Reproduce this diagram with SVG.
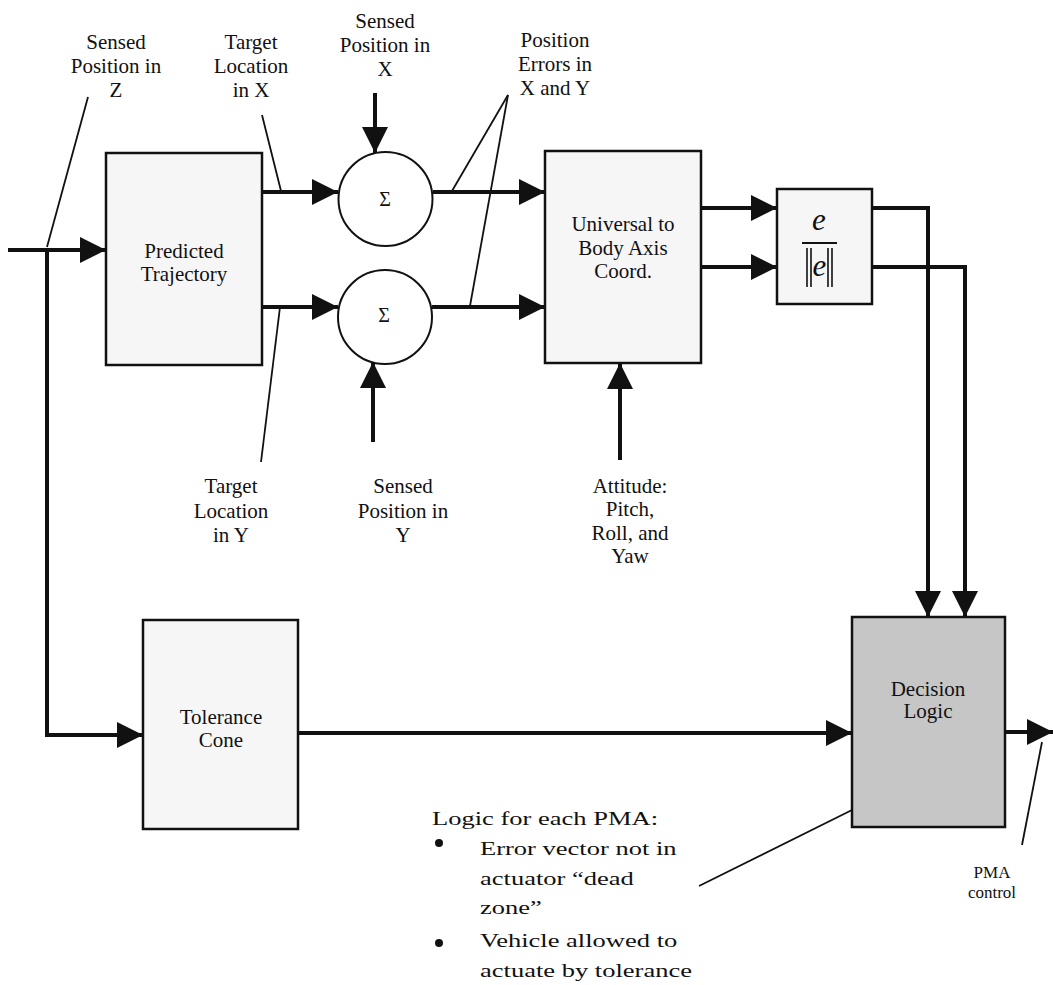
<svg xmlns="http://www.w3.org/2000/svg" width="1053" height="985" viewBox="0 0 1053 985">
<style>
text{font-family:"Liberation Serif","Times New Roman",serif;fill:#111}
.lbl{font-size:21px;text-anchor:middle}
.sm{font-size:17px;text-anchor:middle}
.note{font-size:19.5px}
.box{fill:#f6f6f6;stroke:#111;stroke-width:2.5}
.dec{fill:#c6c6c6;stroke:#111;stroke-width:2.5}
.circ{fill:#fff;stroke:#111;stroke-width:2}
.wire{fill:none;stroke:#111;stroke-width:4}
.lead{fill:none;stroke:#111;stroke-width:1.8}
.sig{font-size:20px;text-anchor:middle}
.it{font-size:31px;font-style:italic;text-anchor:middle}
</style>
<defs>
<marker id="ah" markerUnits="userSpaceOnUse" markerWidth="26" markerHeight="26" refX="26" refY="13" orient="auto">
<path d="M0,0 L26,13 L0,26 z" fill="#111"/>
</marker>
</defs>
<rect width="1053" height="985" fill="#fff"/>

<g id="predicted-trajectory">
<rect class="box" x="106" y="153" width="156" height="212"/>
<text class="lbl" x="184" y="258">Predicted</text>
<text class="lbl" x="184" y="281">Trajectory</text>
</g>

<g id="sum-x">
<circle class="circ" cx="385.5" cy="199" r="47"/>
<text class="sig" x="385" y="206">Σ</text>
</g>

<g id="sum-y">
<circle class="circ" cx="385" cy="317" r="47"/>
<text class="sig" x="384" y="322">Σ</text>
</g>

<g id="universal-to-body">
<rect class="box" x="545" y="151" width="156" height="212"/>
<text class="lbl" x="623" y="231">Universal to</text>
<text class="lbl" x="623" y="255">Body Axis</text>
<text class="lbl" x="623" y="278">Coord.</text>
</g>

<g id="normalize">
<rect class="box" x="777" y="189" width="95" height="115"/>
<text class="it" x="819" y="230">e</text>
<line x1="802" y1="243" x2="837" y2="243" stroke="#111" stroke-width="2"/>
<g stroke="#111" stroke-width="1.6">
<line x1="807" y1="248" x2="807" y2="287"/>
<line x1="811" y1="248" x2="811" y2="287"/>
<line x1="828" y1="248" x2="828" y2="287"/>
<line x1="832" y1="248" x2="832" y2="287"/>
</g>
<text class="it" x="819.5" y="276">e</text>
</g>

<g id="tolerance-cone">
<rect class="box" x="143" y="620" width="155" height="209"/>
<text class="lbl" x="221" y="724">Tolerance</text>
<text class="lbl" x="221" y="747">Cone</text>
</g>

<g id="decision-logic">
<rect class="dec" x="852" y="617" width="153" height="210"/>
<text class="lbl" x="928" y="696">Decision</text>
<text class="lbl" x="928" y="718">Logic</text>
</g>

<g id="labels">
<text class="lbl" x="116" y="49">Sensed</text>
<text class="lbl" x="116" y="73">Position in</text>
<text class="lbl" x="116" y="97">Z</text>

<text class="lbl" x="251" y="49">Target</text>
<text class="lbl" x="251" y="73">Location</text>
<text class="lbl" x="251" y="97">in X</text>

<text class="lbl" x="385" y="28">Sensed</text>
<text class="lbl" x="385" y="52">Position in</text>
<text class="lbl" x="385" y="76">X</text>

<text class="lbl" x="555" y="47">Position</text>
<text class="lbl" x="555" y="71">Errors in</text>
<text class="lbl" x="555" y="95">X and Y</text>

<text class="lbl" x="231" y="493">Target</text>
<text class="lbl" x="231" y="518">Location</text>
<text class="lbl" x="231" y="542">in Y</text>

<text class="lbl" x="403" y="493">Sensed</text>
<text class="lbl" x="403" y="518">Position in</text>
<text class="lbl" x="403" y="542">Y</text>

<text class="lbl" x="630" y="493">Attitude:</text>
<text class="lbl" x="630" y="516">Pitch,</text>
<text class="lbl" x="630" y="540">Roll, and</text>
<text class="lbl" x="630" y="563">Yaw</text>

<text class="sm" x="992" y="878">PMA</text>
<text class="sm" x="992" y="898">control</text>
</g>

<g id="logic-note">
<g transform="translate(432,0) scale(1.36,1)">
<text class="note" x="0" y="825">Logic for each PMA:</text>
<text class="note" x="35.3" y="855">Error vector not in</text>
<text class="note" x="35.3" y="885">actuator “dead</text>
<text class="note" x="35.3" y="914">zone”</text>
<text class="note" x="35.3" y="947">Vehicle allowed to</text>
<text class="note" x="35.3" y="977">actuate by tolerance</text>
</g>
<circle cx="439" cy="843" r="4" fill="#111"/>
<circle cx="439" cy="943" r="4" fill="#111"/>
</g>

<g id="connectors">
<path class="wire" d="M8,250 H106" marker-end="url(#ah)"/>
<path class="wire" d="M47,250 V735 H143" marker-end="url(#ah)"/>
<path class="wire" d="M262,192 H338" marker-end="url(#ah)"/>
<path class="wire" d="M262,307 H338" marker-end="url(#ah)"/>
<path class="wire" d="M433,192 H545" marker-end="url(#ah)"/>
<path class="wire" d="M432,307 H545" marker-end="url(#ah)"/>
<path class="wire" d="M375,93 V153" marker-end="url(#ah)"/>
<path class="wire" d="M373,442 V362" marker-end="url(#ah)"/>
<path class="wire" d="M620,460 V363" marker-end="url(#ah)"/>
<path class="wire" d="M701,208 H777" marker-end="url(#ah)"/>
<path class="wire" d="M701,267 H777" marker-end="url(#ah)"/>
<path class="wire" d="M872,208 H928 V617" marker-end="url(#ah)"/>
<path class="wire" d="M872,267 H965 V617" marker-end="url(#ah)"/>
<path class="wire" d="M298,733 H852" marker-end="url(#ah)"/>
<path class="wire" d="M1005,732 H1053" marker-end="url(#ah)"/>

<path class="lead" d="M88,97 L47,247"/>
<path class="lead" d="M262,115 L281,191"/>
<path class="lead" d="M508,95 L452,191"/>
<path class="lead" d="M508,95 L470,306"/>
<path class="lead" d="M280,307 L261,462"/>
<path class="lead" d="M852,810 L699,886"/>
<path class="lead" d="M1042,742 L1022,845"/>
</g>
</svg>
